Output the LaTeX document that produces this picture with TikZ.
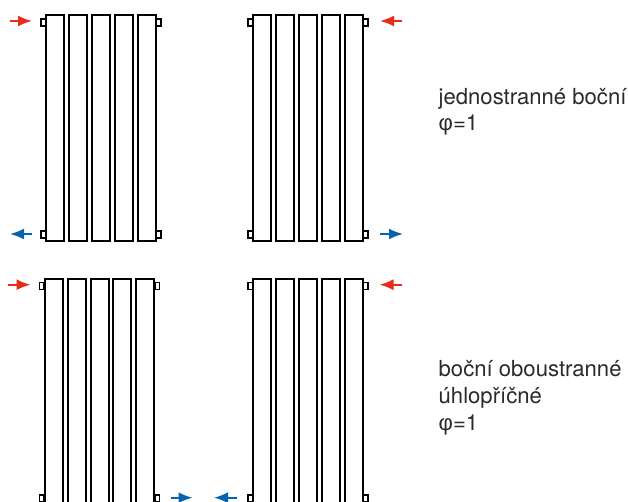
\documentclass[tikz,border=0pt]{standalone}
\usepackage{fontspec}
\setmainfont{TeX Gyre Heros}
\newfontfamily\greekfont{Liberation Sans}
\usetikzlibrary{arrows.meta}
\definecolor{hotred}{RGB}{230,45,25}
\definecolor{coldblue}{RGB}{5,100,175}
\definecolor{txt}{RGB}{45,41,42}
\tikzset{
  x=1pt,y=-1pt,
  sect/.style={draw=black,line width=2pt,fill=white},
  stub/.style={draw=black,line width=1.5pt,fill=white},
  flow/.style={line width=1.8pt,-{Latex[length=14pt,width=11pt]}},
  hot/.style={flow,draw=hotred,fill=hotred},
  cold/.style={flow,draw=coldblue,fill=coldblue},
  lbl/.style={anchor=base west,inner sep=0pt,text=txt,font=\fontsize{22.1}{26}\selectfont},
}
\newcommand{\radiator}[4]{% x, top, bottom, stub top of lower pair
  \draw[stub] (#1-4.2,#2+4.3) rectangle (#1+0.5,#2+11.3);
  \draw[stub] (#1+111.2,#2+4.3) rectangle (#1+116,#2+11.3);
  \draw[stub] (#1-4.2,#4+0.3) rectangle (#1+0.5,#4+7.3);
  \draw[stub] (#1+111.2,#4+0.3) rectangle (#1+116,#4+7.3);
  \foreach \i in {0,...,4}
    \draw[sect] (#1+\i*22.9+1,#2+1) rectangle (#1+\i*22.9+19,#3-1);
}
\begin{document}
\begin{tikzpicture}
\useasboundingbox (0,0) rectangle (628,502);
\clip (0,0) rectangle (628,502);
\radiator{45}{14.5}{242}{230.7}
\radiator{252}{14.5}{242}{230.7}
\radiator{43.7}{278.3}{520}{494.5}
\radiator{252.2}{278.3}{520}{494.5}
\coordinate (a1s) at (9.5,21);   \coordinate (a1e) at (32,21);
\coordinate (a2s) at (32,234);   \coordinate (a2e) at (10,234);
\coordinate (a3s) at (380,234);  \coordinate (a3e) at (403,234);
\coordinate (a4s) at (402,21);   \coordinate (a4e) at (380,21);
\coordinate (a5s) at (8,284.7);  \coordinate (a5e) at (30.5,284.7);
\coordinate (a6s) at (402,284.7);\coordinate (a6e) at (379.5,284.7);
\coordinate (a7s) at (170.5,497.7);\coordinate (a7e) at (192.5,497.7);
\coordinate (a8s) at (237,497.7);\coordinate (a8e) at (214,497.7);
\draw[hot] (a1s) -- (a1e);
\draw[cold] (a2s) -- (a2e);
\draw[cold] (a3s) -- (a3e);
\draw[hot] (a4s) -- (a4e);
\draw[hot] (a5s) -- (a5e);
\draw[hot] (a6s) -- (a6e);
\draw[cold] (a7s) -- (a7e);
\draw[cold] (a8s) -- (a8e);
\node[lbl] (t1) at (438.5,105) {jednostranné boční};
\node[lbl] (t2) at (438.5,131) {{\greekfont φ}=1};
\node[lbl] (t3) at (438.5,376) {boční oboustranné};
\node[lbl] (t4) at (438.5,403) {úhlopříčné};
\node[lbl] (t5) at (438.5,430) {{\greekfont φ}=1};
\end{tikzpicture}
\end{document}
